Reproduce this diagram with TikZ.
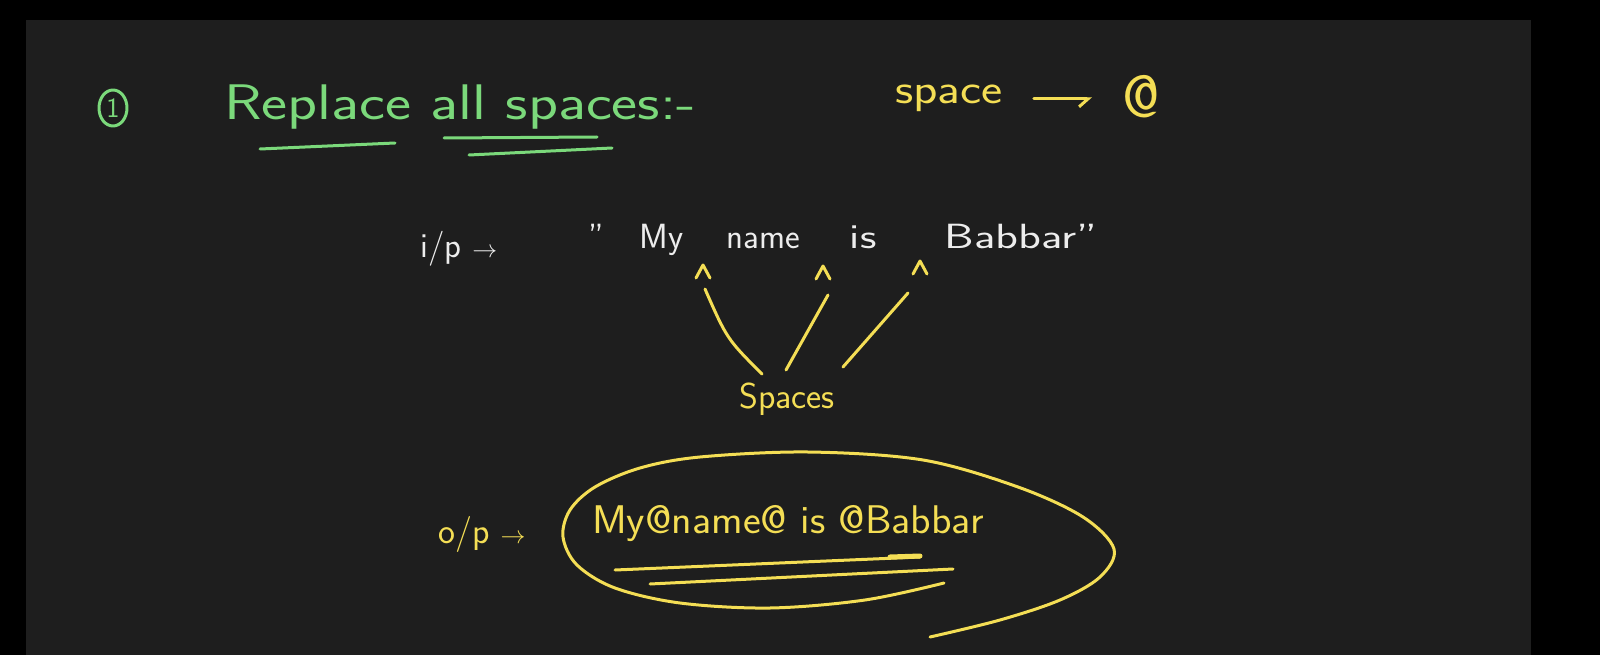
\documentclass[tikz,border=0pt]{standalone}
\usepackage{fontspec}
\usepackage{tikz}
\usetikzlibrary{arrows.meta,positioning,shapes.geometric}
\definecolor{board}{HTML}{1E1E1E}
\definecolor{chalkGreen}{HTML}{7BD97B}
\definecolor{chalkYellow}{HTML}{F4DE55}
\definecolor{chalkWhite}{HTML}{EDEDED}
\newcommand{\wide}[2]{\scalebox{#1}[1]{#2}}

\begin{document}
\begin{tikzpicture}[
  x=1pt, y=-1pt,
  ink/.style={line width=3pt, line cap=round, line join=round},
  greenInk/.style={ink, draw=chalkGreen},
  yellowInk/.style={ink, draw=chalkYellow},
  title/.style={text=chalkGreen, font=\sffamily\fontsize{50}{60}\selectfont, anchor=base west, inner sep=2pt},
  note/.style={text=chalkYellow, font=\sffamily\fontsize{40}{48}\selectfont, anchor=base west, inner sep=2pt},
  small/.style={font=\sffamily\fontsize{36}{42}\selectfont},
  input/.style={text=chalkWhite, font=\sffamily\fontsize{35}{42}\selectfont, anchor=base west, inner sep=2pt},
  arrow/.style={yellowInk, -{Straight Barb[harpoon, swap, length=9pt, width=16pt]}}
]
\fill[black] (0,0) rectangle (1600,655);
\fill[board] (26,20) rectangle (1531,655);
\useasboundingbox (0,0) rectangle (1600,655);

\node[ellipse, greenInk, minimum width=28pt, minimum height=36pt, inner sep=0pt, text=chalkGreen, font=\sffamily\fontsize{28}{32}\selectfont] (num) at (113,108) {1};
\node[title] (task) at (222,120) {\wide{1.24}{Replace all spaces:-}};
\draw[greenInk] (260,149) -- (395,143);
\draw[greenInk] (444,138) -- (597,137);
\draw[greenInk] (469,155) -- (612,148);

\node[note, font=\sffamily\fontsize{42}{48}\selectfont] (spc) at (893,104) {\wide{1.2}{space}};
\node[note, font=\sffamily\fontsize{60}{70}\selectfont] (atsign) at (1120,118) {@};
\draw[arrow, shorten <=29pt, shorten >=28pt] (spc.east) -- (atsign.west |- spc.east);

\node[input] (ip) at (418,257) {i/p $\rightarrow$};
\node[input] (str) at (586,248) {"\hspace{36pt}My\hspace{43pt}name\hspace{50pt}\wide{1.3}{is}\hspace{68pt}\wide{1.35}{Babbar"}};

\coordinate (c1) at (703,265);
\coordinate (c2) at (823,266);
\coordinate (c3) at (920,261);
\foreach \c in {c1,c2,c3}
  \draw[yellowInk] (\c) ++(-7,13) -- (\c) -- ++(7,13);

\node[note, small] (spaces) at (737,408) {Spaces};
\coordinate (f1) at (762,374);
\coordinate (f2) at (786,370);
\coordinate (f3) at (843,367);
\coordinate (t1) at (705,289);
\coordinate (t2) at (828,295);
\coordinate (t3) at (908,293);
\draw[yellowInk] (f1) .. controls (727,339) .. (t1);
\draw[yellowInk] (f2) -- (t2);
\draw[yellowInk] (f3) -- (t3);

\node[note, small] (op) at (436,543) {o/p $\rightarrow$};
\node[note] (result) at (590,533) {\wide{1.06}{My@name@ is @Babbar}};
\draw[yellowInk] (615,570) -- (920,557);
\draw[yellowInk, line width=5pt] (890,557) -- (920,556);
\draw[yellowInk] (650,584) -- (953,569);
\draw[yellowInk] plot[smooth, tension=0.55] coordinates {(944,583) (865,600) (770,608) (680,603) (615,588) (577,565) (563,537) (570,510) (595,487) (640,468) (700,457) (808,452) (923,460) (1018,487) (1083,517) (1114,549) (1100,577) (1060,600) (1000,620) (930,637)};
\end{tikzpicture}
\end{document}
